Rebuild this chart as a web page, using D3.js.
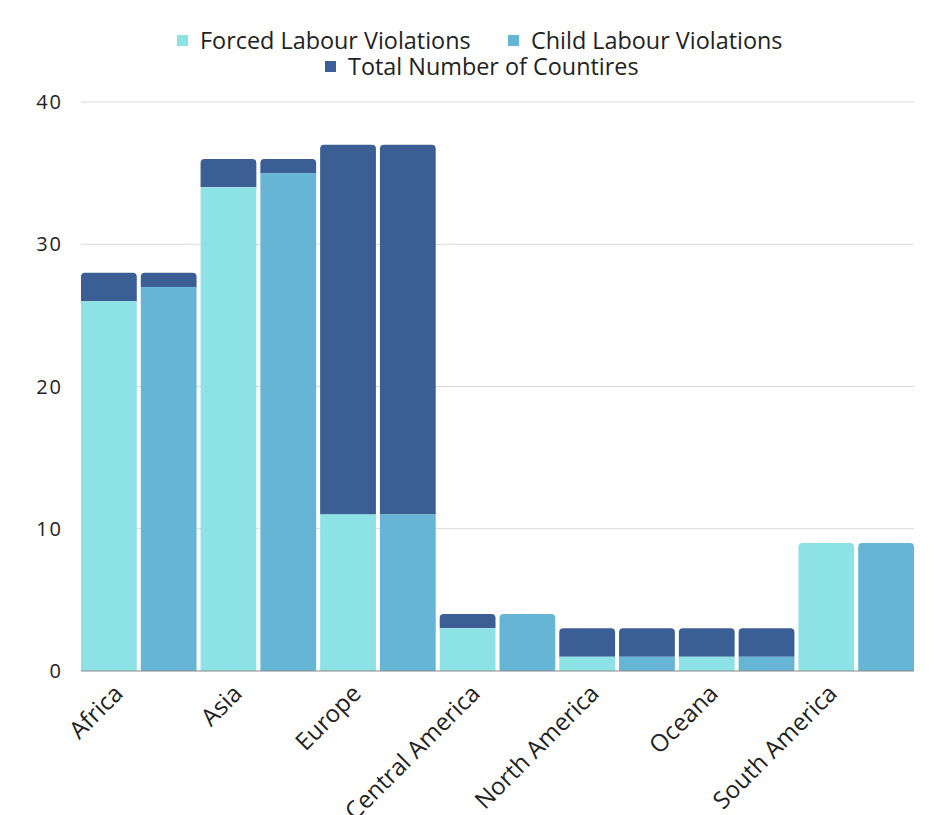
<!DOCTYPE html>
<html>
<head>
<meta charset="utf-8">
<script src="https://cdn.jsdelivr.net/npm/d3@7.9.0/dist/d3.min.js"></script>
<style>
  body { margin: 0; background: #fff; }
  svg { display: block; }
</style>
</head>
<body>
<svg id="chart" width="951" height="815"></svg>
<script>
const regions = ['Africa', 'Asia', 'Europe', 'Central America', 'North America', 'Oceana', 'South America'];
const forced = [26, 34, 11, 3, 1, 1, 9];
const child = [27, 35, 11, 4, 1, 1, 9];
const totals = [28, 36, 37, 4, 3, 3, 9];
const yTicks = [0, 10, 20, 30, 40];

const colors = { forced: '#8de2e6', child: '#66b5d4', total: '#3b5e94' };

const svg = d3.select('#chart');
const margin = { left: 81, right: 37, top: 102, bottom: 144 };
const width = 951 - margin.left - margin.right;
const height = 815 - margin.top - margin.bottom;

const g = svg.append('g').attr('transform', `translate(${margin.left},${margin.top})`);

// one slot per bar, same gap everywhere
const bars = [];
regions.forEach((r, i) => {
  bars.push({ id: r + '|forced', region: r, key: 'forced', value: forced[i], total: totals[i] });
  bars.push({ id: r + '|child', region: r, key: 'child', value: child[i], total: totals[i] });
});

const x0 = d3.scaleBand().domain(regions).range([0, width]);
const xb = d3.scaleBand().domain(bars.map(b => b.id)).range([0, width]).paddingInner(0.067).paddingOuter(0);
const y = d3.scaleLinear().domain([0, 40]).range([height, 0]);

// gridlines
g.selectAll('.grid').data(yTicks.filter(t => t > 0)).join('line')
  .attr('x1', 0).attr('x2', width)
  .attr('y1', d => y(d)).attr('y2', d => y(d))
  .attr('stroke', '#d9d9d9').attr('stroke-width', 1);

// y tick labels
g.selectAll('.ytick').data(yTicks).join('text')
  .attr('x', -18).attr('y', d => y(d)).attr('dy', '0.36em')
  .attr('text-anchor', 'end')
  .attr('font-family', '"Open Sans", sans-serif').attr('font-size', 20)
  .attr('letter-spacing', 2).attr('fill', '#222')
  .text(d => d);

function topRounded(x, yTop, w, h, r) {
  r = Math.min(r, h, w / 2);
  return `M${x},${yTop + h}V${yTop + r}Q${x},${yTop} ${x + r},${yTop}H${x + w - r}Q${x + w},${yTop} ${x + w},${yTop + r}V${yTop + h}Z`;
}

bars.forEach(b => {
  const bx = xb(b.id);
  const bw = xb.bandwidth();
  if (b.total > b.value) {
    g.append('path')
      .attr('d', topRounded(bx, y(b.total), bw, y(b.value) - y(b.total), 4))
      .attr('fill', colors.total);
    g.append('rect')
      .attr('x', bx).attr('y', y(b.value))
      .attr('width', bw).attr('height', height - y(b.value))
      .attr('fill', colors[b.key]);
  } else {
    g.append('path')
      .attr('d', topRounded(bx, y(b.value), bw, height - y(b.value), 4))
      .attr('fill', colors[b.key]);
  }
});

// baseline
g.append('line')
  .attr('x1', 0).attr('x2', width).attr('y1', height).attr('y2', height)
  .attr('stroke', '#888').attr('stroke-width', 1);

// x labels
g.selectAll('.xlab').data(regions).join('text')
  .attr('transform', d => `translate(${x0(d) + x0.bandwidth() / 2 - 16},${height + 24}) rotate(-45)`)
  .attr('text-anchor', 'end')
  .attr('font-family', '"Open Sans", sans-serif').attr('font-size', 24).attr('fill', '#222')
  .text(d => d);

// legend
const legendItems = [
  { label: 'Forced Labour Violations', color: colors.forced, x: 177, y: 35 },
  { label: 'Child Labour Violations', color: colors.child, x: 508, y: 35 },
  { label: 'Total Number of Countires', color: colors.total, x: 325, y: 61 }
];
const lg = svg.append('g');
legendItems.forEach(it => {
  lg.append('rect').attr('x', it.x).attr('y', it.y).attr('width', 11).attr('height', 11).attr('fill', it.color);
  lg.append('text').attr('x', it.x + 23).attr('y', it.y + 13.5)
    .attr('font-family', '"Open Sans", sans-serif').attr('font-size', 23.4).attr('fill', '#222')
    .text(it.label);
});
</script>
</body>
</html>
